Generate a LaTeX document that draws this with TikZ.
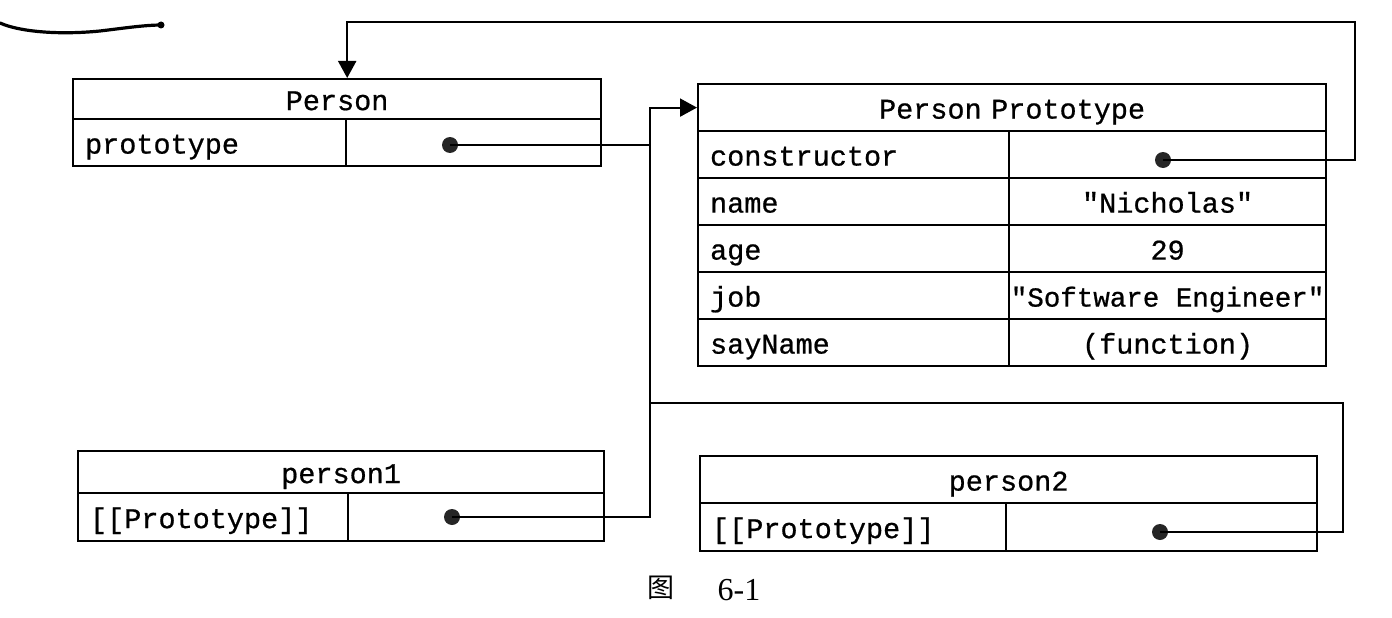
\documentclass[tikz,border=0pt]{standalone}
\usepackage{fontspec}
\newfontfamily\mono{Liberation Mono}[FakeBold=0.7]
\setmainfont{Liberation Serif}
\newfontfamily\cjk{Noto Sans CJK SC}
\usetikzlibrary{arrows.meta}
\begin{document}
\begin{tikzpicture}[x=1pt,y=-1pt,
  cell/.style={draw, line width=2.2pt, inner xsep=12pt, inner ysep=0pt, anchor=north west,
    text height=23pt, text depth=1pt,
    font=\mono\fontsize{28.5}{30}\selectfont},
  lab/.style={cell, align=left},
  val/.style={cell, align=center},
  dotn/.style={circle, fill=black!85, inner sep=0pt, minimum width=14pt, minimum height=16pt},
  conn/.style={line width=2pt, line join=miter},
  arr/.style={conn, -{Triangle[length=17pt,width=18pt]}}]
\useasboundingbox (0,0) rectangle (1392,618);
% pen mark
\draw[line width=3.2pt, line cap=round] (0,23) .. controls (20,32) and (60,35) .. (100,31) .. controls (125,28) and (145,25) .. (162,25);
\fill (161,25) circle (3.5pt);
% Person
\node[cell, minimum width=528pt, minimum height=40pt, text width=504pt, align=center] (pH) at (72,78) {Person};
\node[lab, minimum width=273pt, minimum height=47pt, text width=249pt] (pLab) at (72,118) {prototype};
\node[val, minimum width=255pt, minimum height=47pt, text width=231pt] (pVal) at (345,118) {};
\node[dotn] (pdot) at (450,145) {};
% Person Prototype
\node[cell, minimum width=628pt, minimum height=47pt, text width=604pt, align=center] (ppH) at (697,83) {Person Prototype};
\node[lab, minimum width=311pt, minimum height=47pt, text width=287pt] (cLab) at (697,130) {constructor};
\node[val, minimum width=317pt, minimum height=47pt, text width=293pt] (cVal) at (1008,130) {};
\node[lab, minimum width=311pt, minimum height=47pt, text width=287pt] (nLab) at (697,177) {name};
\node[val, minimum width=317pt, minimum height=47pt, text width=293pt] (nVal) at (1008,177) {"Nicholas"};
\node[lab, minimum width=311pt, minimum height=47pt, text width=287pt] (aLab) at (697,224) {age};
\node[val, minimum width=317pt, minimum height=47pt, text width=293pt] (aVal) at (1008,224) {29};
\node[lab, minimum width=311pt, minimum height=47pt, text width=287pt] (jLab) at (697,271) {job};
\node[cell, minimum width=317pt, minimum height=47pt, inner xsep=0pt, font=\mono\fontsize{27.5}{30}\selectfont] (jVal) at (1008,271) {"Software Engineer"};
\node[lab, minimum width=311pt, minimum height=47pt, text width=287pt] (sLab) at (697,318) {sayName};
\node[val, minimum width=317pt, minimum height=47pt, text width=293pt] (sVal) at (1008,318) {(function)};
\node[dotn] (cdot) at (1163,160) {};
% person1
\node[cell, minimum width=526pt, minimum height=42pt, text width=502pt, align=center] (p1H) at (77,450) {person1};
\node[lab, minimum width=270pt, minimum height=48pt, text width=246pt] (p1Lab) at (77,492) {[[Prototype]]};
\node[val, minimum width=256pt, minimum height=48pt, text width=232pt] (p1Val) at (347,492) {};
\node[dotn] (p1dot) at (452,517) {};
% person2
\node[cell, minimum width=617pt, minimum height=47pt, text width=593pt, align=center] (p2H) at (699,455) {person2};
\node[lab, minimum width=306pt, minimum height=48pt, text width=282pt] (p2Lab) at (699,502) {[[Prototype]]};
\node[val, minimum width=311pt, minimum height=48pt, text width=287pt] (p2Val) at (1005,502) {};
\node[dotn] (p2dot) at (1160,532) {};
% bend coordinates
\coordinate (vx) at (650,0);
\coordinate (c2) at (1343,403);
\coordinate (c3) at (1355,22);
% connectors
\draw[arr] (p1dot.center) -| (vx |- ppH.west) -- (ppH.west);
\draw[conn] (pdot.center) -- (pdot -| vx);
\draw[conn] (p2dot.center) -| (c2) -- (c2 -| vx);
\draw[arr] (cdot.center) -| (c3) -| (pLab.north east |- pH.north);
% caption
\node[font=\cjk\fontsize{27}{30}\selectfont] (capA) at (661,588) {图};
\node[font=\fontsize{32}{34}\selectfont] (capB) at (739,590) {6-1};
\end{tikzpicture}
\end{document}
